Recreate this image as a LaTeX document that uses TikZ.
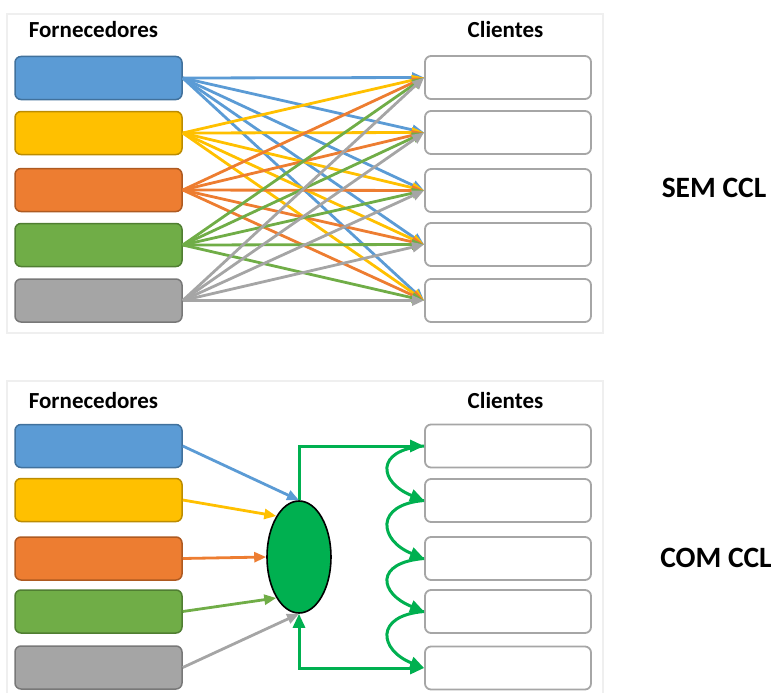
\documentclass[tikz,border=0pt]{standalone}
\usepackage{fontspec}
\setmainfont{Carlito}
\usetikzlibrary{arrows.meta,shapes.geometric}
\definecolor{cblue}{HTML}{5B9BD5}\definecolor{dblue}{HTML}{41719C}
\definecolor{cyell}{HTML}{FFC000}\definecolor{dyell}{HTML}{BC8C00}
\definecolor{corng}{HTML}{ED7D31}\definecolor{dorng}{HTML}{AE5A21}
\definecolor{cgrn}{HTML}{70AD47}\definecolor{dgrn}{HTML}{507E32}
\definecolor{cgray}{HTML}{A5A5A5}\definecolor{dgray}{HTML}{787878}
\definecolor{ccl}{HTML}{00B050}
\definecolor{frame}{HTML}{EFEFEF}
\definecolor{cbord}{HTML}{A6A6A6}
\begin{document}
\begin{tikzpicture}[x=1pt,y=-1pt,
  sup/.style={rounded corners=6pt,minimum width=167pt,minimum height=43pt,line width=1.5pt,inner sep=0pt},
  cli/.style={rounded corners=6pt,minimum width=166pt,minimum height=43pt,line width=1.8pt,draw=cbord,fill=white,inner sep=0pt},
  title/.style={font=\bfseries\fontsize{23}{27}\selectfont,anchor=base,inner sep=0pt},
  big/.style={font=\bfseries\fontsize{29.5}{33}\selectfont,anchor=base,inner sep=0pt},
  arr/.style={line width=2.8pt,-{Triangle[length=12pt,width=10pt]}},
  garr/.style={line width=3pt,draw=ccl,-{Triangle[length=14pt,width=12pt]}},
  panel/.style={draw=frame,line width=1.5pt}]
\useasboundingbox (0,0) rectangle (774,693);
\clip (0,0) rectangle (774,693);
% frames
\draw[panel] (7,14) rectangle (603,333);
\draw[panel] (7,381) rectangle (603,710);
% ---------- top panel
\node[title] (tf) at (93.5,38) {Fornecedores};
\node[title] (tcl) at (505.5,38) {Clientes};
\node[big] (sem) at (714,197) {SEM CCL};
\foreach \i/\y/\f/\d in {1/78/cblue/dblue,2/133/cyell/dyell,3/190/corng/dorng,4/245/cgrn/dgrn,5/300.5/cgray/dgray}{
  \node[sup,fill=\f,draw=\d] (ts\i) at (98.5,\y) {};
}
\foreach \i/\y in {1/77.5,2/132.5,3/190.5,4/244.5,5/300.5}{
  \node[cli] (tc\i) at (508,\y) {};
}
\foreach \i/\c in {1/cblue,2/cyell,3/corng,4/cgrn,5/cgray}{
  \foreach \j in {1,...,5}{
    \draw[arr,draw=\c,fill=\c] (ts\i.east) -- (tc\j.west);
  }
}
% ---------- bottom panel
\node[title] (bf) at (93.5,408) {Fornecedores};
\node[title] (bcl) at (505.5,408) {Clientes};
\node[big] (com) at (716,567) {COM CCL};
\foreach \i/\y/\f/\d in {1/446/cblue/dblue,2/500/cyell/dyell,3/558.5/corng/dorng,4/611.5/cgrn/dgrn,5/667.5/cgray/dgray}{
  \node[sup,fill=\f,draw=\d] (bs\i) at (98.5,\y) {};
}
\foreach \i/\y in {1/446,2/500.5,3/558.5,4/611.5,5/668}{
  \node[cli] (bc\i) at (508,\y) {};
}
\node[ellipse,draw=black,fill=ccl,line width=1.6pt,minimum width=64pt,minimum height=112pt,inner sep=0pt] (ell) at (299,557) {};
\draw[garr] (ell.north) |- (bc1.west);
\draw[garr,{Triangle[length=14pt,width=12pt]}-{Triangle[length=14pt,width=12pt]}] (ell.south) |- (bc5.west);
\foreach \a/\b in {1/2,2/3,3/4,4/5}{
  \draw[garr] (bc\a.west) .. controls +(-50,4) and +(-45,-18) .. (bc\b.west);
}
\draw[arr,draw=cblue,fill=cblue] (bs1.east) -- (ell.north);
\draw[arr,draw=cyell,fill=cyell] (bs2.east) -- (ell.119);
\draw[arr,draw=corng,fill=corng] (bs3.east) -- (ell.west);
\draw[arr,draw=cgrn,fill=cgrn] (bs4.east) -- (ell.241);
\draw[arr,draw=cgray,fill=cgray] (bs5.east) -- (ell.south);
\end{tikzpicture}
\end{document}
